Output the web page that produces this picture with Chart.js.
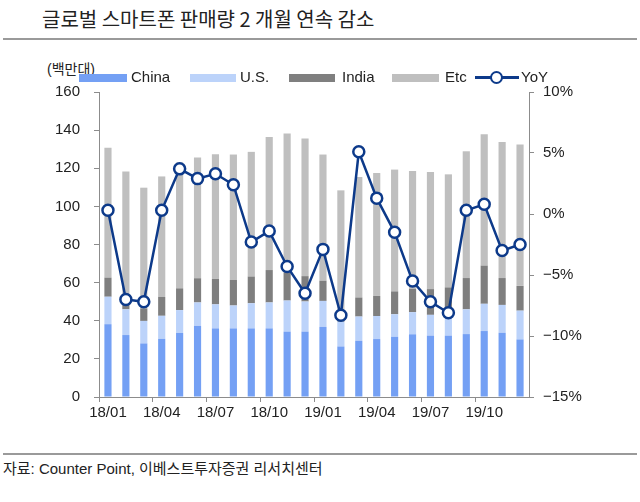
<!DOCTYPE html>
<html>
<head>
<meta charset="utf-8">
<script src="https://cdn.jsdelivr.net/npm/chart.js@4.4.1/dist/chart.umd.min.js"></script>
<style>
  body { margin: 0; width: 640px; height: 502px; background: #fff; position: relative; overflow: hidden;
         font-family: 'Liberation Sans Narrow', 'Liberation Sans', 'Noto Sans CJK KR', sans-serif; color: #222; }
  .title { position: absolute; left: 42px; top: 4px; font-family: 'Noto Sans CJK KR', sans-serif; font-size: 20px; color: #222; white-space: nowrap; }
  .rule { position: absolute; left: 3px; width: 634px; height: 2px; background: #9a9a9a; }
  .unit { position: absolute; left: 47px; top: 58px; font-size: 14px; white-space: nowrap; }
  .legend { position: absolute; top: 68px; left: 0; height: 18px; width: 640px; font-size: 15px; z-index: 2; }
  .legend .box { position: absolute; top: 6px; height: 8px; }
  .legend .txt { position: absolute; top: 0; line-height: 18px; }
  .legend .ln { position: absolute; top: 8px; height: 3px; background: #0d3a8a; }
  .legend .dot { position: absolute; top: 3px; width: 9px; height: 9px; border: 2.5px solid #0d3a8a; border-radius: 50%; background: #fff; }
  .source { position: absolute; left: 3px; top: 457px; font-size: 15px; white-space: nowrap; }
  #wrap { position: absolute; left: 0; top: 69px; width: 640px; height: 356px; }
</style>
</head>
<body>
<div class="title">글로벌 스마트폰 판매량 2 개월 연속 감소</div>
<div class="rule" style="top:38px"></div>
<div class="unit">(백만대)</div>
<div id="wrap"><canvas id="chart"></canvas></div>
<div class="legend">
  <div class="box" style="left:79px;width:48px;background:#74a0f4"></div><div class="txt" style="left:131px">China</div>
  <div class="box" style="left:190px;width:46px;background:#bcd3fa"></div><div class="txt" style="left:240px">U.S.</div>
  <div class="box" style="left:289px;width:46px;background:#7f7f7f"></div><div class="txt" style="left:342px">India</div>
  <div class="box" style="left:392px;width:47px;background:#bfbfbf"></div><div class="txt" style="left:445px">Etc</div>
  <div class="ln" style="left:475px;width:44px"></div><div class="dot" style="left:490px"></div><div class="txt" style="left:521px">YoY</div>
</div>
<div class="rule" style="top:453px"></div>
<div class="source">자료: Counter Point, 이베스트투자증권 리서치센터</div>

<script>
// monthly labels 18/01 ~ 19/12
const months = ['18/01','18/02','18/03','18/04','18/05','18/06','18/07','18/08','18/09','18/10','18/11','18/12',
                '19/01','19/02','19/03','19/04','19/05','19/06','19/07','19/08','19/09','19/10','19/11','19/12'];

// sales by region (million units, stacked segments)
const china = [38.2,32.5,28.1,30.5,33.6,37.3,36.0,36.0,36.0,36.0,34.3,34.3,36.8,26.5,29.5,30.4,31.6,32.9,32.2,32.2,33.0,34.6,33.7,30.2];
const us    = [14.4,13.5,11.8,12.1,12.0,12.3,12.6,12.0,13.2,13.6,16.3,15.8,13.6,13.0,12.7,12.1,11.8,11.6,10.9,10.0,13.0,14.3,14.6,15.1];
const india = [10.0,3.5,6.6,9.9,11.4,12.7,13.4,13.4,14.0,17.0,14.7,13.3,10.6,4.0,10.0,10.5,12.0,12.3,13.5,15.3,16.4,20.0,14.1,13.0];
const etc   = [68.1,68.8,63.3,63.2,66.0,63.3,65.3,65.8,65.4,69.8,72.9,72.2,66.2,64.9,63.2,64.5,63.9,61.8,61.4,59.3,66.5,68.9,71.4,74.1];

// YoY growth (%)
const yoy = [0.3,-7.0,-7.2,0.3,3.7,2.9,3.3,2.4,-2.3,-1.4,-4.3,-6.5,-2.9,-8.3,5.1,1.3,-1.5,-5.5,-7.2,-8.1,0.3,0.8,-3.0,-2.5];

const axisColor = '#8c8c8c';
const tickFont = { family: "'Liberation Sans Narrow', 'Liberation Sans', sans-serif", size: 15 };

function barSet(label, data, color) {
  return { type: 'bar', label, data, backgroundColor: color, yAxisID: 'y',
           barPercentage: 0.4, categoryPercentage: 1.0, order: 1 };
}

new Chart(document.getElementById('chart'), {
  data: {
    labels: months,
    datasets: [
      {
        type: 'line', label: 'YoY', data: yoy, yAxisID: 'y1', order: 0,
        borderColor: '#0d3a8a', borderWidth: 2.5, tension: 0,
        pointRadius: 5.5, pointBorderWidth: 2.5, pointBackgroundColor: '#fff', pointBorderColor: '#0d3a8a'
      },
      barSet('China', china, '#74a0f4'),
      barSet('U.S.', us, '#bcd3fa'),
      barSet('India', india, '#7f7f7f'),
      barSet('Etc', etc, '#bfbfbf')
    ]
  },
  options: {
    responsive: true,
    maintainAspectRatio: false,
    animation: false,
    layout: { padding: { top: 1, left: 0, right: 0, bottom: 0 } },
    plugins: { legend: { display: false }, tooltip: { enabled: false } },
    scales: {
      x: {
        stacked: true,
        afterFit: (s) => { s.height = 28; },
        grid: {
          offset: true, drawOnChartArea: false, tickLength: 5,
          color: (ctx) => (ctx.index % 3 === 0 ? axisColor : 'rgba(0,0,0,0)')
        },
        border: { color: axisColor },
        ticks: {
          autoSkip: false, maxRotation: 0, padding: 2, color: '#222', font: tickFont,
          callback: (v, i) => (i % 3 === 0 ? months[i] : '')
        }
      },
      y: {
        stacked: true, position: 'left', min: 0, max: 160,
        afterFit: (s) => { s.width = 99; },
        grid: { drawOnChartArea: false, tickLength: 5, color: axisColor },
        border: { color: axisColor },
        ticks: { stepSize: 20, padding: 14, color: '#222', font: tickFont }
      },
      y1: {
        stacked: false, position: 'right', min: -15, max: 10,
        afterFit: (s) => { s.width = 111; },
        grid: { drawOnChartArea: false, tickLength: 5, color: axisColor },
        border: { color: axisColor },
        ticks: {
          stepSize: 5, padding: 9, color: '#222', font: tickFont,
          callback: (v) => (v < 0 ? '\u2212' + Math.abs(v) : v) + '%'
        }
      }
    }
  }
});
</script>
</body>
</html>
